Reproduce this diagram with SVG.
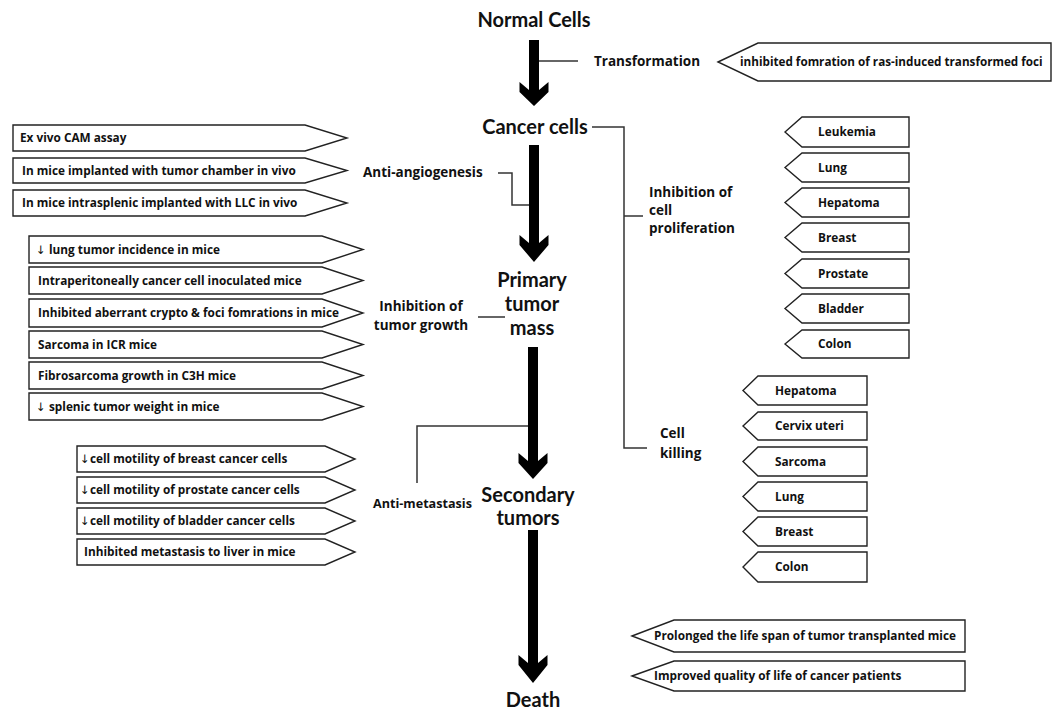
<svg xmlns="http://www.w3.org/2000/svg" width="1058" height="711" viewBox="0 0 1058 711">
<style>
text{font-family:"Open Sans","Liberation Sans",sans-serif;font-weight:bold;fill:#111}
.stage{font-family:Lato,"Open Sans",sans-serif;font-size:20px;text-anchor:middle}
.lbl{font-size:13.5px}
.bt{font-size:11.8px}
.dn{font-family:"DejaVu Sans",sans-serif;font-weight:normal;fill:#111}
.box{fill:#fff;stroke:#222;stroke-width:1.4}
.con{fill:none;stroke:#333;stroke-width:1.5}
.arrow{fill:#000}
</style>
<rect width="1058" height="711" fill="#fff"/>
<g id="stages">
<g id="normal"><text class="stage" x="534" y="27">Normal Cells</text></g>
<g id="cancer"><text class="stage" x="535" y="134">Cancer cells</text></g>
<g id="primary"><text class="stage" x="532" y="287">Primary</text><text class="stage" x="532" y="311">tumor</text><text class="stage" x="532" y="335">mass</text></g>
<g id="secondary"><text class="stage" x="528" y="502">Secondary</text><text class="stage" x="528" y="525">tumors</text></g>
<g id="death"><text class="stage" x="533" y="707">Death</text></g>
</g>
<g id="arrows">
<path class="arrow" d="M529,40 H539 V90 L548.5,82 V92 L534,106 L519.5,92 V82 L529,90 Z"/>
<path class="arrow" d="M529,145 H539 V243 L548.5,235 V245 L534,262 L519.5,245 V235 L529,243 Z"/>
<path class="arrow" d="M528,347 H538 V461 L547.5,453 V463 L533,479 L518.5,463 V453 L528,461 Z"/>
<path class="arrow" d="M528,530 H538 V663 L547.5,655 V665 L533,683 L518.5,665 V655 L528,663 Z"/>
</g>
<g id="connectors">
<path class="con" d="M539,61 H578"/>
<path class="con" d="M592,127 H624 V448 H647"/>
<path class="con" d="M624,216 H643"/>
<path class="con" d="M498,173 H512 V205 H529"/>
<path class="con" d="M478,317 H505"/>
<path class="con" d="M417,483 V426 H528"/>
</g>
<g id="labels">
<g id="transformation"><text class="lbl" x="594" y="66">Transformation</text></g>
<g id="antiangio"><text class="lbl" x="363" y="177">Anti-angiogenesis</text></g>
<g id="inhib-growth"><text class="lbl" x="421" y="311" text-anchor="middle">Inhibition of</text><text class="lbl" x="421" y="330" text-anchor="middle">tumor growth</text></g>
<g id="antimeta"><text class="lbl" x="373" y="508" style="font-size:12.6px">Anti-metastasis</text></g>
<g id="inhib-prolif"><text class="lbl" x="649" y="197">Inhibition of</text><text class="lbl" x="649" y="215">cell</text><text class="lbl" x="649" y="233">proliferation</text></g>
<g id="cellkilling"><text class="lbl" x="660" y="438">Cell</text><text class="lbl" x="660" y="458">killing</text></g>
</g>
<g id="box-ras"><polygon class="box" points="718,62 758,43 1051,43 1051,81 758,81"/><text class="bt" x="740" y="66" style="font-size:11.7px">inhibited fomration of ras-induced transformed foci</text></g>
<g id="angio-boxes">
<g id="a1"><polygon class="box" points="13,125 305,125 347,138 305,151 13,151"/><text class="bt" x="20" y="142">Ex vivo CAM assay</text></g>
<g id="a2"><polygon class="box" points="13,158 305,158 347,170.5 305,183 13,183"/><text class="bt" x="22" y="175">In mice implanted with tumor chamber in vivo</text></g>
<g id="a3"><polygon class="box" points="13,190 305,190 347,203 305,216 13,216"/><text class="bt" x="22" y="207">In mice intrasplenic implanted with LLC in vivo</text></g>
</g>
<g id="growth-boxes">
<g id="g1"><polygon class="box" points="29,236 322,236 363,249.5 322,263 29,263"/><text class="bt" x="36" y="254"><tspan class="dn">↓</tspan> lung tumor incidence in mice</text></g>
<g id="g2"><polygon class="box" points="29,267 322,267 363,280.5 322,294 29,294"/><text class="bt" x="38" y="285">Intraperitoneally cancer cell inoculated mice</text></g>
<g id="g3"><polygon class="box" points="29,299 322,299 363,313 322,327 29,327"/><text class="bt" x="38" y="317">Inhibited aberrant crypto &amp; foci fomrations in mice</text></g>
<g id="g4"><polygon class="box" points="29,331 322,331 363,344.5 322,358 29,358"/><text class="bt" x="38" y="349">Sarcoma in ICR mice</text></g>
<g id="g5"><polygon class="box" points="29,362 322,362 363,375.5 322,389 29,389"/><text class="bt" x="38" y="380">Fibrosarcoma growth in C3H mice</text></g>
<g id="g6"><polygon class="box" points="29,393 322,393 363,406.5 322,420 29,420"/><text class="bt" x="36" y="411"><tspan class="dn">↓</tspan> splenic tumor weight in mice</text></g>
</g>
<g id="meta-boxes">
<g id="m1"><polygon class="box" points="77,446 325,446 355,459 325,472 77,472"/><text class="bt" x="80" y="463"><tspan class="dn">↓</tspan>cell motility of breast cancer cells</text></g>
<g id="m2"><polygon class="box" points="77,477 325,477 355,490 325,503 77,503"/><text class="bt" x="80" y="494"><tspan class="dn">↓</tspan>cell motility of prostate cancer cells</text></g>
<g id="m3"><polygon class="box" points="77,508 325,508 355,521 325,534 77,534"/><text class="bt" x="80" y="525"><tspan class="dn">↓</tspan>cell motility of bladder cancer cells</text></g>
<g id="m4"><polygon class="box" points="77,539 325,539 355,552 325,565 77,565"/><text class="bt" x="84" y="556">Inhibited metastasis to liver in mice</text></g>
</g>
<g id="prolif-boxes">
<g id="p1"><polygon class="box" points="785,132 802,117 909,117 909,147 802,147"/><text class="bt" x="818" y="136">Leukemia</text></g>
<g id="p2"><polygon class="box" points="785,167.5 802,153 909,153 909,182 802,182"/><text class="bt" x="818" y="172">Lung</text></g>
<g id="p3"><polygon class="box" points="785,202.5 802,188 909,188 909,217 802,217"/><text class="bt" x="818" y="207">Hepatoma</text></g>
<g id="p4"><polygon class="box" points="785,237.5 802,223 909,223 909,252 802,252"/><text class="bt" x="818" y="242">Breast</text></g>
<g id="p5"><polygon class="box" points="785,273.5 802,259 909,259 909,288 802,288"/><text class="bt" x="818" y="278">Prostate</text></g>
<g id="p6"><polygon class="box" points="785,308.5 802,294 909,294 909,323 802,323"/><text class="bt" x="818" y="313">Bladder</text></g>
<g id="p7"><polygon class="box" points="785,344 802,330 909,330 909,358 802,358"/><text class="bt" x="818" y="348">Colon</text></g>
</g>
<g id="killing-boxes">
<g id="k1"><polygon class="box" points="743,390.5 758,376 867,376 867,405 758,405"/><text class="bt" x="775" y="395">Hepatoma</text></g>
<g id="k2"><polygon class="box" points="743,426 758,412 867,412 867,440 758,440"/><text class="bt" x="775" y="430">Cervix uteri</text></g>
<g id="k3"><polygon class="box" points="743,461.5 758,447 867,447 867,476 758,476"/><text class="bt" x="775" y="466">Sarcoma</text></g>
<g id="k4"><polygon class="box" points="743,496.5 758,482 867,482 867,511 758,511"/><text class="bt" x="775" y="501">Lung</text></g>
<g id="k5"><polygon class="box" points="743,531.5 758,517 867,517 867,546 758,546"/><text class="bt" x="775" y="536">Breast</text></g>
<g id="k6"><polygon class="box" points="743,567 758,552 867,552 867,582 758,582"/><text class="bt" x="775" y="571">Colon</text></g>
</g>
<g id="outcome-boxes">
<g id="o1"><polygon class="box" points="632,636 674,620 965,620 965,652 674,652"/><text class="bt" x="654" y="640">Prolonged the life span of tumor transplanted mice</text></g>
<g id="o2"><polygon class="box" points="632,676 674,661 965,661 965,691 674,691"/><text class="bt" x="654" y="680">Improved quality of life of cancer patients</text></g>
</g>
</svg>
